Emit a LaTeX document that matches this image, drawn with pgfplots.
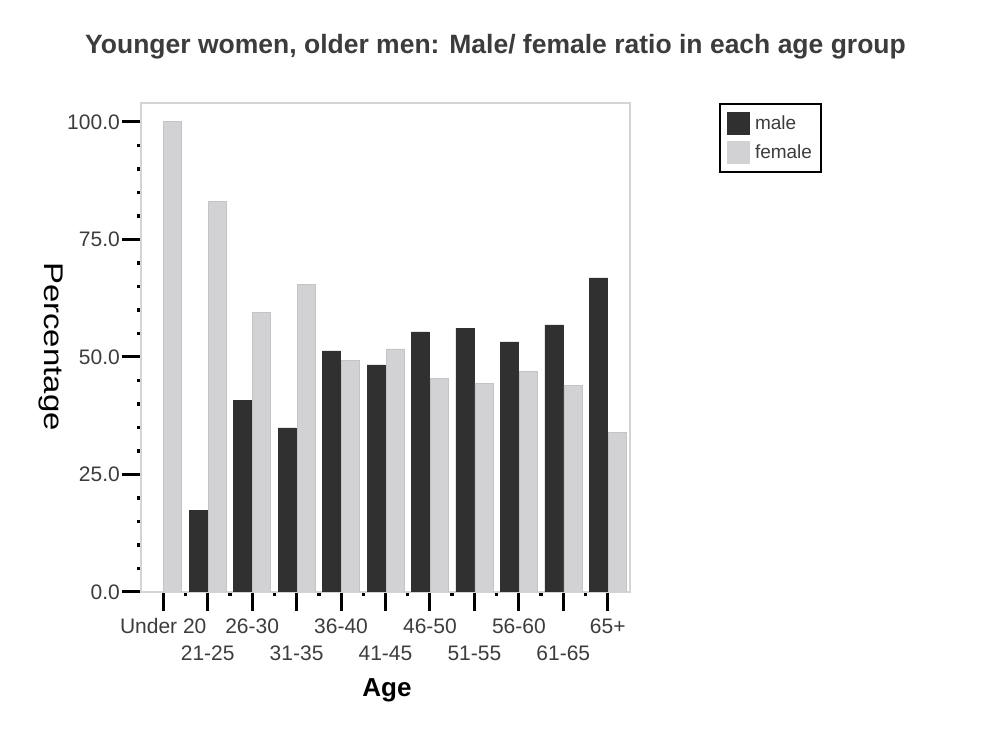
\documentclass[border=0pt]{standalone}
\usepackage{fontspec}
\setmainfont{Liberation Sans}
\newfontfamily\ylabfont{Liberation Sans}[FakeStretch=1.22]
\usepackage{pgfplots}
\pgfplotsset{compat=1.18}
\definecolor{maledark}{HTML}{303030}
\definecolor{femlight}{HTML}{D2D2D4}
\definecolor{femedge}{HTML}{C4C4C6}
\definecolor{framegray}{HTML}{D4D4D4}
\definecolor{txt}{HTML}{3C3C3C}
\pgfplotsset{
	sq legend/.style={
		legend image code/.code={\path[##1, draw=none] (0pt,-11.5pt) rectangle (23pt,11.5pt);}
	}
}

\begin{document}
\begin{tikzpicture}
\path[use as bounding box] (-141pt,-159pt) rectangle (865pt,592pt);
\begin{axis}[
	scale only axis,
	width=489pt, height=489pt,
	xmin=-0.5, xmax=10.5,
	ymin=0, ymax=104,
	ybar=1pt, bar width=18pt,
	axis line style={draw=framegray, line width=1.2pt},
	tick pos=left,
	tick align=outside,
	major tick length=19pt,
	minor tick length=4pt,
	major tick style={black, line width=3pt},
	minor tick style={black, line width=3.5pt},
	xtick={0,...,10},
	minor x tick num=1,
	ytick={0,25,50,75,100},
	minor y tick num=4,
	xticklabels={
		{\strut Under 20\\\strut}, {\strut\\\strut 21-25},
		{\strut 26-30\\\strut}, {\strut\\\strut 31-35},
		{\strut 36-40\\\strut}, {\strut\\\strut 41-45},
		{\strut 46-50\\\strut}, {\strut\\\strut 51-55},
		{\strut 56-60\\\strut}, {\strut\\\strut 61-65},
		{\strut 65+\\\strut}},
	xticklabel style={align=center, inner sep=0pt, text=txt, yshift=-3pt,
		font=\fontsize{21}{27.5}\selectfont},
	yticklabel style={inner sep=2pt, text=txt,
		font=\fontsize{21}{24}\selectfont},
	/pgf/number format/fixed,
	/pgf/number format/fixed zerofill,
	/pgf/number format/precision=1,
	/pgf/number format/assume math mode=true,
	title={Younger women, older men: Male/ female ratio in each age group},
	title style={at={(axis description cs:0.725,1)}, anchor=base, yshift=43pt,
		text=txt, font=\fontsize{26.5}{30}\selectfont\bfseries},
	xlabel={Age},
	xlabel style={at={(axis description cs:0.503,0)}, anchor=base, yshift=-104pt,
		font=\fontsize{26}{30}\selectfont\bfseries},
	ylabel={Percentage},
	every axis y label/.style={at={(axis description cs:-0.184,0.502)},
		anchor=center, rotate=-90, font=\fontsize{27}{30}\selectfont\ylabfont},
	legend style={at={(axis description cs:1.182,1)}, anchor=north west,
		draw=black, line width=2pt, text=txt,
		font=\fontsize{19}{22}\selectfont,
		inner xsep=7pt, inner ysep=8pt, row sep=6pt,
		/tikz/every odd column/.append style={column sep=3pt}},
	legend cell align=left,
]
\addplot[sq legend, fill=maledark, draw=maledark, line width=0.4pt] coordinates {
	(1,17.4) (2,40.7) (3,34.9) (4,51.3) (5,48.3)
	(6,55.3) (7,56.1) (8,53.2) (9,56.8) (10,66.8)};
\addplot[sq legend, fill=femlight, draw=femedge, line width=0.6pt] coordinates {
	(0,100) (1,83.1) (2,59.5) (3,65.5) (4,49.2) (5,51.7)
	(6,45.5) (7,44.4) (8,47.0) (9,44.0) (10,33.9)};
\legend{male, female}
\end{axis}
\end{tikzpicture}
\end{document}
